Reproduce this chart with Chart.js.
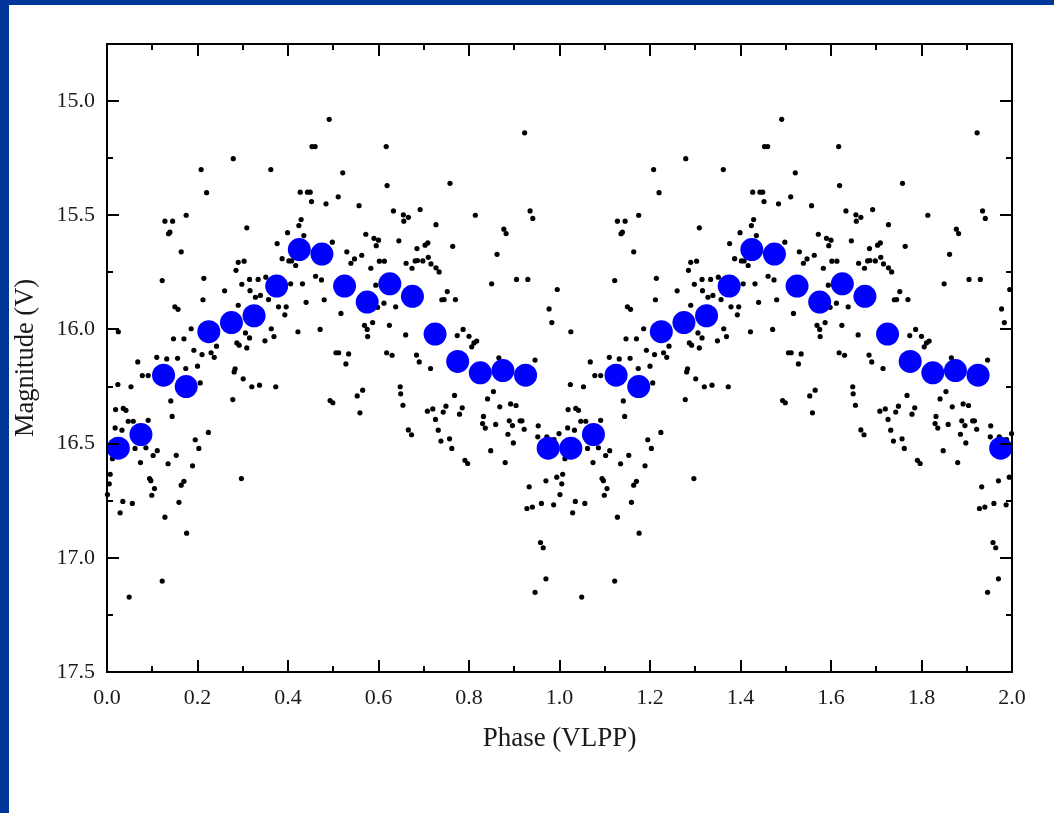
<!DOCTYPE html>
<html><head><meta charset="utf-8">
<script src="https://cdn.jsdelivr.net/npm/chart.js@4.4.1/dist/chart.umd.min.js"></script>
<style>
html,body{margin:0;padding:0;background:#00359a;width:1054px;height:813px;overflow:hidden}
#wrap{position:absolute;left:9px;top:5px;width:1045px;height:808px;background:#fff}
canvas{display:block}
</style></head><body><div id="wrap"><canvas id="c" width="1045" height="808"></canvas></div>
<script>
// Individual observations, phase-folded (phase 0–1); shown again at phase+1
const obsPhase = [0.279,0.208,0.220,0.128,0.145,0.175,0.136,0.139,0.309,0.164,0.290,0.303,0.285,0.122,0.214,0.315,0.334,0.298,0.260,0.316,
0.212,0.150,0.157,0.290,0.186,0.147,0.170,0.025,0.287,0.292,0.309,0.315,0.306,0.242,0.192,0.210,0.230,0.237,0.110,0.132,
0.156,0.328,0.339,0.068,0.078,0.091,0.174,0.200,0.206,0.283,0.281,0.301,0.320,0.337,0.278,0.024,0.053,0.141,0.019,0.036,
0.042,0.144,0.047,0.058,0.091,0.018,0.033,0.224,0.195,0.203,0.062,0.086,0.111,0.102,0.012,0.153,0.074,0.135,0.189,0.007,
0.005,0.001,0.094,0.097,0.105,0.170,0.164,0.099,0.297,0.035,0.056,0.159,0.029,0.128,0.176,0.122,0.049,0.491,0.453,0.460,
0.617,0.362,0.521,0.619,0.427,0.443,0.449,0.511,0.452,0.484,0.557,0.633,0.655,0.666,0.656,0.429,0.424,0.399,0.435,0.572,
0.590,0.600,0.595,0.645,0.376,0.498,0.530,0.563,0.547,0.539,0.387,0.402,0.408,0.417,0.602,0.613,0.661,0.583,0.351,0.461,
0.474,0.432,0.406,0.594,0.440,0.480,0.357,0.379,0.396,0.393,0.517,0.612,0.638,0.598,0.363,0.369,0.349,0.422,0.471,0.569,
0.575,0.587,0.576,0.624,0.660,0.506,0.512,0.534,0.618,0.630,0.528,0.373,0.493,0.499,0.553,0.565,0.559,0.648,0.649,0.654,
0.666,0.923,0.758,0.692,0.814,0.935,0.941,0.727,0.877,0.882,0.685,0.703,0.709,0.764,0.862,0.674,0.681,0.686,0.698,0.710,
0.716,0.727,0.734,0.850,0.905,0.930,0.995,0.752,0.740,0.745,0.770,0.977,0.983,0.787,0.774,0.800,0.817,0.811,0.806,0.684,
0.866,0.946,0.690,0.715,0.854,0.841,0.868,0.892,0.904,0.768,0.708,0.720,0.726,0.743,0.749,0.785,0.779,0.832,0.830,0.836,
0.859,0.889,0.896,0.886,0.913,0.917,0.922,0.898,0.953,0.952,0.972,0.988,0.999,0.673,0.732,0.738,0.757,0.762,0.791,0.797,
0.848,0.880,0.933,0.970,0.994,0.928,0.940,0.960,0.987,0.958,0.964,0.970,0.946];
const obsMag = [15.252,15.300,15.401,15.526,15.526,15.500,15.581,15.574,15.555,15.660,15.706,15.701,15.741,15.786,15.776,15.781,15.781,15.802,15.831,15.830,
15.870,15.901,15.912,15.894,15.997,16.041,16.041,16.010,16.059,16.069,16.081,16.037,16.015,16.073,16.091,16.110,16.102,16.122,16.122,16.129,
16.126,15.859,15.851,16.142,16.202,16.202,16.171,16.161,16.234,16.172,16.186,16.216,16.251,16.244,16.307,16.241,16.251,16.313,16.351,16.346,
16.354,16.381,16.402,16.402,16.398,16.431,16.441,16.451,16.483,16.521,16.521,16.518,16.531,16.552,16.566,16.551,16.583,16.588,16.597,16.634,
16.676,16.723,16.653,16.662,16.697,16.665,16.682,16.726,16.653,16.753,16.762,16.757,16.803,16.822,16.892,17.102,17.172,15.080,15.199,15.199,
15.199,15.300,15.314,15.370,15.399,15.399,15.399,15.419,15.440,15.450,15.458,15.481,15.498,15.509,15.526,15.519,15.545,15.576,15.589,15.583,
15.601,15.609,15.633,15.612,15.624,15.618,15.660,15.675,15.691,15.710,15.690,15.700,15.700,15.720,15.701,15.701,15.710,15.732,15.771,15.767,
15.783,15.800,15.800,15.806,15.881,15.870,15.869,15.901,15.901,15.936,15.930,15.885,15.901,15.903,15.997,16.031,16.050,16.010,16.000,15.982,
16.000,15.970,16.031,15.982,16.024,16.102,16.102,16.107,16.102,16.113,16.151,16.251,16.311,16.321,16.291,16.266,16.365,16.251,16.282,16.332,
16.440,15.139,15.360,15.475,15.500,15.481,15.514,15.541,15.561,15.580,15.646,15.631,15.621,15.636,15.671,15.732,15.700,15.698,15.700,15.684,
15.713,15.730,15.748,15.800,15.781,15.781,15.825,15.834,15.870,15.869,15.869,15.910,15.970,16.000,16.027,16.030,16.051,16.059,16.076,16.112,
16.124,16.134,16.142,16.171,16.272,16.304,16.339,16.326,16.333,16.289,16.358,16.348,16.394,16.362,16.336,16.343,16.371,16.381,16.412,16.432,
16.416,16.400,16.421,16.459,16.400,16.400,16.437,16.497,16.422,16.470,16.470,16.482,16.456,16.461,16.441,16.489,16.479,16.521,16.573,16.587,
16.531,16.583,16.689,16.663,16.647,16.784,16.778,16.762,16.768,16.933,16.956,17.092,17.151];

// Binned means (phase 0–1); shown again at phase+1
const binPhase = [0.025,0.075,0.125,0.175,0.225,0.275,0.325,0.375,0.425,0.475,0.525,0.575,0.625,0.675,0.725,0.775,0.825,0.875,0.925,0.975];
const binMag   = [16.52,16.46,16.20,16.25,16.01,15.97,15.94,15.81,15.65,15.67,15.81,15.88,15.80,15.855,16.02,16.14,16.19,16.18,16.20,16.52];

const xMin = 0, xMax = 2.0, xMinorStep = 0.1;
const yMin = 14.75, yMax = 17.5, yMinorStep = 0.25;
const xTitle = 'Phase (VLPP)';
const yTitle = 'Magnitude (V)';

function fold(ph, mg){
  const out = [];
  for (let c = 0; c < 2; c++) ph.forEach((p,i)=>{ const x = p + c; if (x <= xMax) out.push({x:x, y:mg[i]}); });
  return out;
}

const isMajorX = v => Math.abs(v/0.2 - Math.round(v/0.2)) < 1e-6;
const isMajorY = v => Math.abs(v/0.5 - Math.round(v/0.5)) < 1e-6;

const framePlugin = {
  id: 'frame',
  afterDraw(chart){
    const {ctx, chartArea:a, scales:{x, y}} = chart;
    ctx.save();
    ctx.strokeStyle = '#000';
    ctx.lineWidth = 2;
    ctx.beginPath();
    x.ticks.forEach(t=>{
      const px = Math.round(x.getPixelForValue(t.value));
      const L = isMajorX(t.value) ? 12 : 6;
      ctx.moveTo(px, a.bottom); ctx.lineTo(px, a.bottom - L);
      ctx.moveTo(px, a.top); ctx.lineTo(px, a.top + L);
    });
    y.ticks.forEach(t=>{
      const py = Math.round(y.getPixelForValue(t.value));
      const L = isMajorY(t.value) ? 12 : 6;
      ctx.moveTo(a.left, py); ctx.lineTo(a.left + L, py);
      ctx.moveTo(a.right, py); ctx.lineTo(a.right - L, py);
    });
    ctx.stroke();
    ctx.strokeRect(a.left, a.top, a.right - a.left, a.bottom - a.top);
    ctx.restore();
  }
};

const FONT = 'Liberation Serif';
new Chart(document.getElementById('c'), {
  type: 'scatter',
  data: {
    datasets: [
      {label:'bins', data: fold(binPhase, binMag), pointRadius: 11.5, pointHoverRadius: 11.5,
       backgroundColor:'#0000ff', borderWidth:0, order:0, clip:false},
      {label:'obs', data: fold(obsPhase, obsMag), pointRadius: 2.6, pointHoverRadius: 2.6,
       backgroundColor:'#000000', borderWidth:0, order:1, clip:false}
    ]
  },
  options: {
    responsive:false, animation:false,
    layout:{padding:{left:0, top:39, right:42, bottom:58}},
    plugins:{legend:{display:false}, tooltip:{enabled:false}},
    scales:{
      x:{type:'linear', min:xMin, max:xMax,
        afterFit(s){ s.height = 83; },
        grid:{display:false, drawTicks:false, tickLength:0},
        border:{display:false},
        ticks:{stepSize:xMinorStep, autoSkip:false, maxRotation:0, padding:13, color:'#1a1a1a',
          font:{family:FONT, size:22},
          callback:v=> isMajorX(v) ? v.toFixed(1) : ''},
        title:{display:true, text:xTitle, color:'#1a1a1a', font:{family:FONT, size:27}, padding:{top:0,bottom:0}}
      },
      y:{type:'linear', reverse:true, min:yMin, max:yMax,
        afterFit(s){ s.width = 98; },
        grid:{display:false, drawTicks:false, tickLength:0},
        border:{display:false},
        ticks:{stepSize:yMinorStep, autoSkip:false, padding:12, color:'#1a1a1a',
          font:{family:FONT, size:22},
          callback:v=> isMajorY(v) ? v.toFixed(1) : ''},
        title:{display:true, text:yTitle, color:'#1a1a1a', font:{family:FONT, size:26.5}, padding:{top:1,bottom:0}}
      }
    }
  },
  plugins:[framePlugin]
});
</script></body></html>
